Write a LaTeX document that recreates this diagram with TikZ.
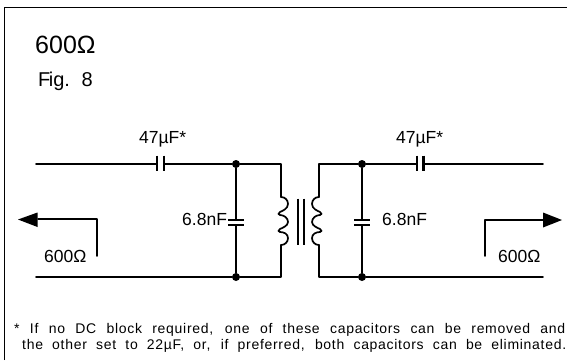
\documentclass[tikz,border=0pt]{standalone}
\usepackage{fontspec}
\setmainfont{Liberation Sans}
\newfontfamily\notef[LetterSpace=5]{Liberation Sans}
\usetikzlibrary{arrows.meta}
\tikzset{x=1pt,y=-1pt,
 wire/.style={line width=1.7pt,line cap=round,line join=round},
 plate/.style={line width=2.4pt},
 dotn/.style={circle,fill=black,inner sep=0pt,minimum size=8pt},
 lbl/.style={inner sep=0pt,font=\fontsize{17.5}{17.5}\selectfont},
 note/.style={inner sep=0pt,font=\fontsize{14}{14}\selectfont\notef}}
\begin{document}
\begin{tikzpicture}
\useasboundingbox (0,0) rectangle (567,360);
\fill[white] (0,0) rectangle (567,360);
\draw[line width=1pt] (4,360) -- (4,7) -- (567,7);
\node[lbl,font=\fontsize{25}{25}\selectfont,anchor=base west] (title) at (35,53) {600Ω};
\node[lbl,font=\fontsize{20}{20}\selectfont,anchor=base west] (fig) at (38,86) {F\kern-1.5pt ig.\kern6pt\ 8};
% nodes
\coordinate (tl) at (36,164);
\coordinate (cl1) at (157,164);
\coordinate (cl2) at (164,164);
\node[dotn] (j1) at (236,164) {};
\coordinate (tc1) at (281,164);
\coordinate (lt1) at (281,197);
\coordinate (lb1) at (281,245);
\coordinate (bc1) at (281,277);
\node[dotn] (j2) at (236,277) {};
\coordinate (bl) at (36,277);
\coordinate (c1t) at (236,220);
\coordinate (c1b) at (236,225);
\coordinate (tc2) at (319,164);
\node[dotn] (j3) at (362,164) {};
\coordinate (cr1) at (417,164);
\coordinate (cr2) at (423,164);
\coordinate (tr) at (543,164);
\coordinate (lt2) at (319,197);
\coordinate (lb2) at (319,245);
\coordinate (bc2) at (319,277);
\node[dotn] (j4) at (362,277) {};
\coordinate (br) at (543,277);
\coordinate (c2t) at (362,220);
\coordinate (c2b) at (362,225);
% wires
\draw[wire] (tl) -- (cl1) (cl2) -- (j1);
\draw[plate] (157,155.5) -- (157,171) (164,155.5) -- (164,171);
\draw[wire] (j1) -- (tc1) -- (lt1);
\draw[wire] (lb1) -- (bc1) -- (j2) -- (bl);
\draw[wire] (j1) -- (c1t) (c1b) -- (j2);
\draw[plate] (228,220) -- (244,220) (228,225) -- (244,225);
\draw[wire] (j3) -- (tc2) -- (lt2);
\draw[wire] (lb2) -- (bc2) -- (j4) -- (br);
\draw[wire] (j3) -- (cr1) (cr2) -- (tr);
\draw[plate] (417,155.5) -- (417,171) (423.5,155.5) -- (423.5,171);
\draw[wire] (j3) -- (c2t) (c2b) -- (j4);
\draw[plate] (354,220) -- (370,220) (354,225) -- (370,225);
% inductors
\draw[wire] (lt1) .. controls (285,197) and (288,200) .. (288,204) .. controls (288,209) and (282,211) .. (280,212)
 .. controls (278,213) and (278,215) .. (280,215) .. controls (284,215) and (288,218) .. (288,222)
 .. controls (288,226) and (282,228) .. (280,229) .. controls (278,230) and (278,232) .. (280,232)
 .. controls (284,232) and (288,234) .. (288,238) .. controls (288,242) and (285,245) .. (lb1);
\draw[wire] (lt2) .. controls (315,197) and (312,200) .. (312,204) .. controls (312,209) and (318,211) .. (320,212)
 .. controls (322,213) and (322,215) .. (320,215) .. controls (316,215) and (312,218) .. (312,222)
 .. controls (312,226) and (318,228) .. (320,229) .. controls (322,230) and (322,232) .. (320,232)
 .. controls (316,232) and (312,234) .. (312,238) .. controls (312,242) and (315,245) .. (lb2);
% core
\draw[plate] (298,198.5) -- (298,244.5) (304,198.5) -- (304,244.5);
% ports
\coordinate (pl) at (97,219);
\coordinate (pl2) at (97,256);
\coordinate (pla) at (38,219);
\coordinate (pr) at (485,220);
\coordinate (pr2) at (485,256);
\coordinate (pra) at (544,220);
\draw[wire] (pl2) -- (pl) -- (pla);
\fill (18,219.5) -- (37.5,212.5) -- (37.5,227) -- cycle;
\draw[wire] (pr2) -- (pr) -- (pra);
\fill (562,220) -- (543,212.5) -- (543,227.5) -- cycle;
% labels
\node[lbl,anchor=base west] (a1) at (139,143) {47µF*};
\node[lbl,anchor=base west] (a2) at (396,143) {47µF*};
\node[lbl,anchor=base west] (b1) at (182,225) {6.8nF};
\node[lbl,anchor=base west] (b2) at (382,225) {6.8nF};
\node[lbl,anchor=base west] (c1) at (44,262) {600Ω};
\node[lbl,anchor=base west] (c2) at (498,262) {600Ω};
\node[note,anchor=base west] (n1) at (14,333) {\makebox[551pt][s]{* If no DC block required, one of these capacitors can be removed and}};
\node[note,anchor=base west] (n2) at (22,349) {\makebox[544pt][s]{the other set to 22µF, or, if preferred, both capacitors can be eliminated.}};
\end{tikzpicture}
\end{document}
